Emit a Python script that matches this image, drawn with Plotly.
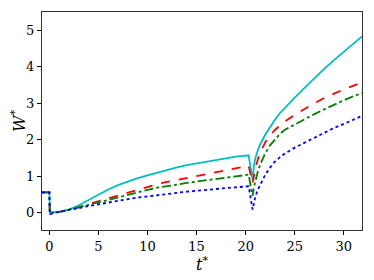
import plotly.graph_objects as go

t = [-0.75, 0.0, 0.05, 0.3, 1, 2, 3, 4, 5, 6, 7, 8, 9, 10, 11, 12, 13, 14, 15, 16, 17, 18, 19, 20.3,
     20.7, 20.85, 21, 21.25, 21.5, 22, 22.5, 23, 23.5, 24, 25, 26, 27, 28, 29, 30, 31, 31.85]

w_cyan = [0.55, 0.55, -0.03, 0.0, 0.02, 0.08, 0.2, 0.35, 0.5, 0.63, 0.75, 0.85, 0.94, 1.02, 1.1, 1.17, 1.24, 1.3, 1.35, 1.4, 1.45, 1.49, 1.53, 1.57,
          0.9, 1.3, 1.5, 1.72, 1.88, 2.14, 2.36, 2.55, 2.73, 2.88, 3.15, 3.42, 3.69, 3.94, 4.18, 4.41, 4.63, 4.83]
w_red = [0.55, 0.55, -0.03, 0.0, 0.02, 0.07, 0.15, 0.23, 0.31, 0.4, 0.48, 0.56, 0.64, 0.71, 0.78, 0.84, 0.9, 0.95, 1.0, 1.05, 1.1, 1.16, 1.21, 1.28,
         0.8, 1.05, 1.22, 1.47, 1.65, 1.93, 2.12, 2.27, 2.39, 2.5, 2.68, 2.85, 3.0, 3.14, 3.27, 3.38, 3.48, 3.57]
w_green = [0.55, 0.55, -0.03, 0.0, 0.02, 0.07, 0.14, 0.21, 0.28, 0.36, 0.43, 0.5, 0.56, 0.62, 0.68, 0.73, 0.77, 0.81, 0.85, 0.88, 0.92, 0.96, 0.99, 1.04,
           0.45, 0.7, 0.9, 1.14, 1.33, 1.63, 1.85, 2.02, 2.16, 2.27, 2.42, 2.56, 2.7, 2.83, 2.96, 3.08, 3.19, 3.28]
w_blue = [0.55, 0.55, -0.06, -0.02, 0.02, 0.06, 0.12, 0.18, 0.23, 0.28, 0.33, 0.37, 0.41, 0.44, 0.48, 0.51, 0.54, 0.57, 0.6, 0.62, 0.65, 0.67, 0.69, 0.72,
          0.08, 0.3, 0.45, 0.63, 0.78, 1.04, 1.24, 1.4, 1.52, 1.62, 1.78, 1.92, 2.05, 2.2, 2.32, 2.43, 2.55, 2.65]

x_ticks = [0, 5, 10, 15, 20, 25, 30]
y_ticks = [0, 1, 2, 3, 4, 5]

series = [
    (w_cyan, "#00BFBF", "solid"),
    (w_red, "#FF0000", "dash"),
    (w_green, "#008000", "dashdot"),
    (w_blue, "#0000FF", "dot"),
]

fig = go.Figure()
for vals, col, dash in series:
    fig.add_trace(go.Scatter(x=t, y=vals, mode="lines",
                             line=dict(color=col, width=1.8, dash=dash),
                             showlegend=False))

font_family = "DejaVu Serif"
fig.update_layout(
    width=366, height=272,
    margin=dict(l=34, r=12, t=4, b=50),
    paper_bgcolor="white", plot_bgcolor="white",
    font=dict(family=font_family, size=13, color="black"),
)
fig.update_xaxes(
    range=[-0.75, 31.85], tickvals=x_ticks, ticks="outside", ticklen=4,
    tickcolor="black", showline=True, linecolor="#333", linewidth=1.2, mirror=True,
    showgrid=False, zeroline=False, automargin=False,
    title=dict(text="<i>t</i><sup>*</sup>", font=dict(size=16), standoff=4),
)
fig.update_yaxes(
    range=[-0.48, 5.5], tickvals=y_ticks, ticks="outside", ticklen=4,
    tickcolor="black", showline=True, linecolor="#333", linewidth=1.2, mirror=True,
    showgrid=False, zeroline=False, automargin=False,
    title=dict(text="<i>W</i><sup>*</sup>", font=dict(size=16), standoff=6),
)
fig.write_html("out.html")
